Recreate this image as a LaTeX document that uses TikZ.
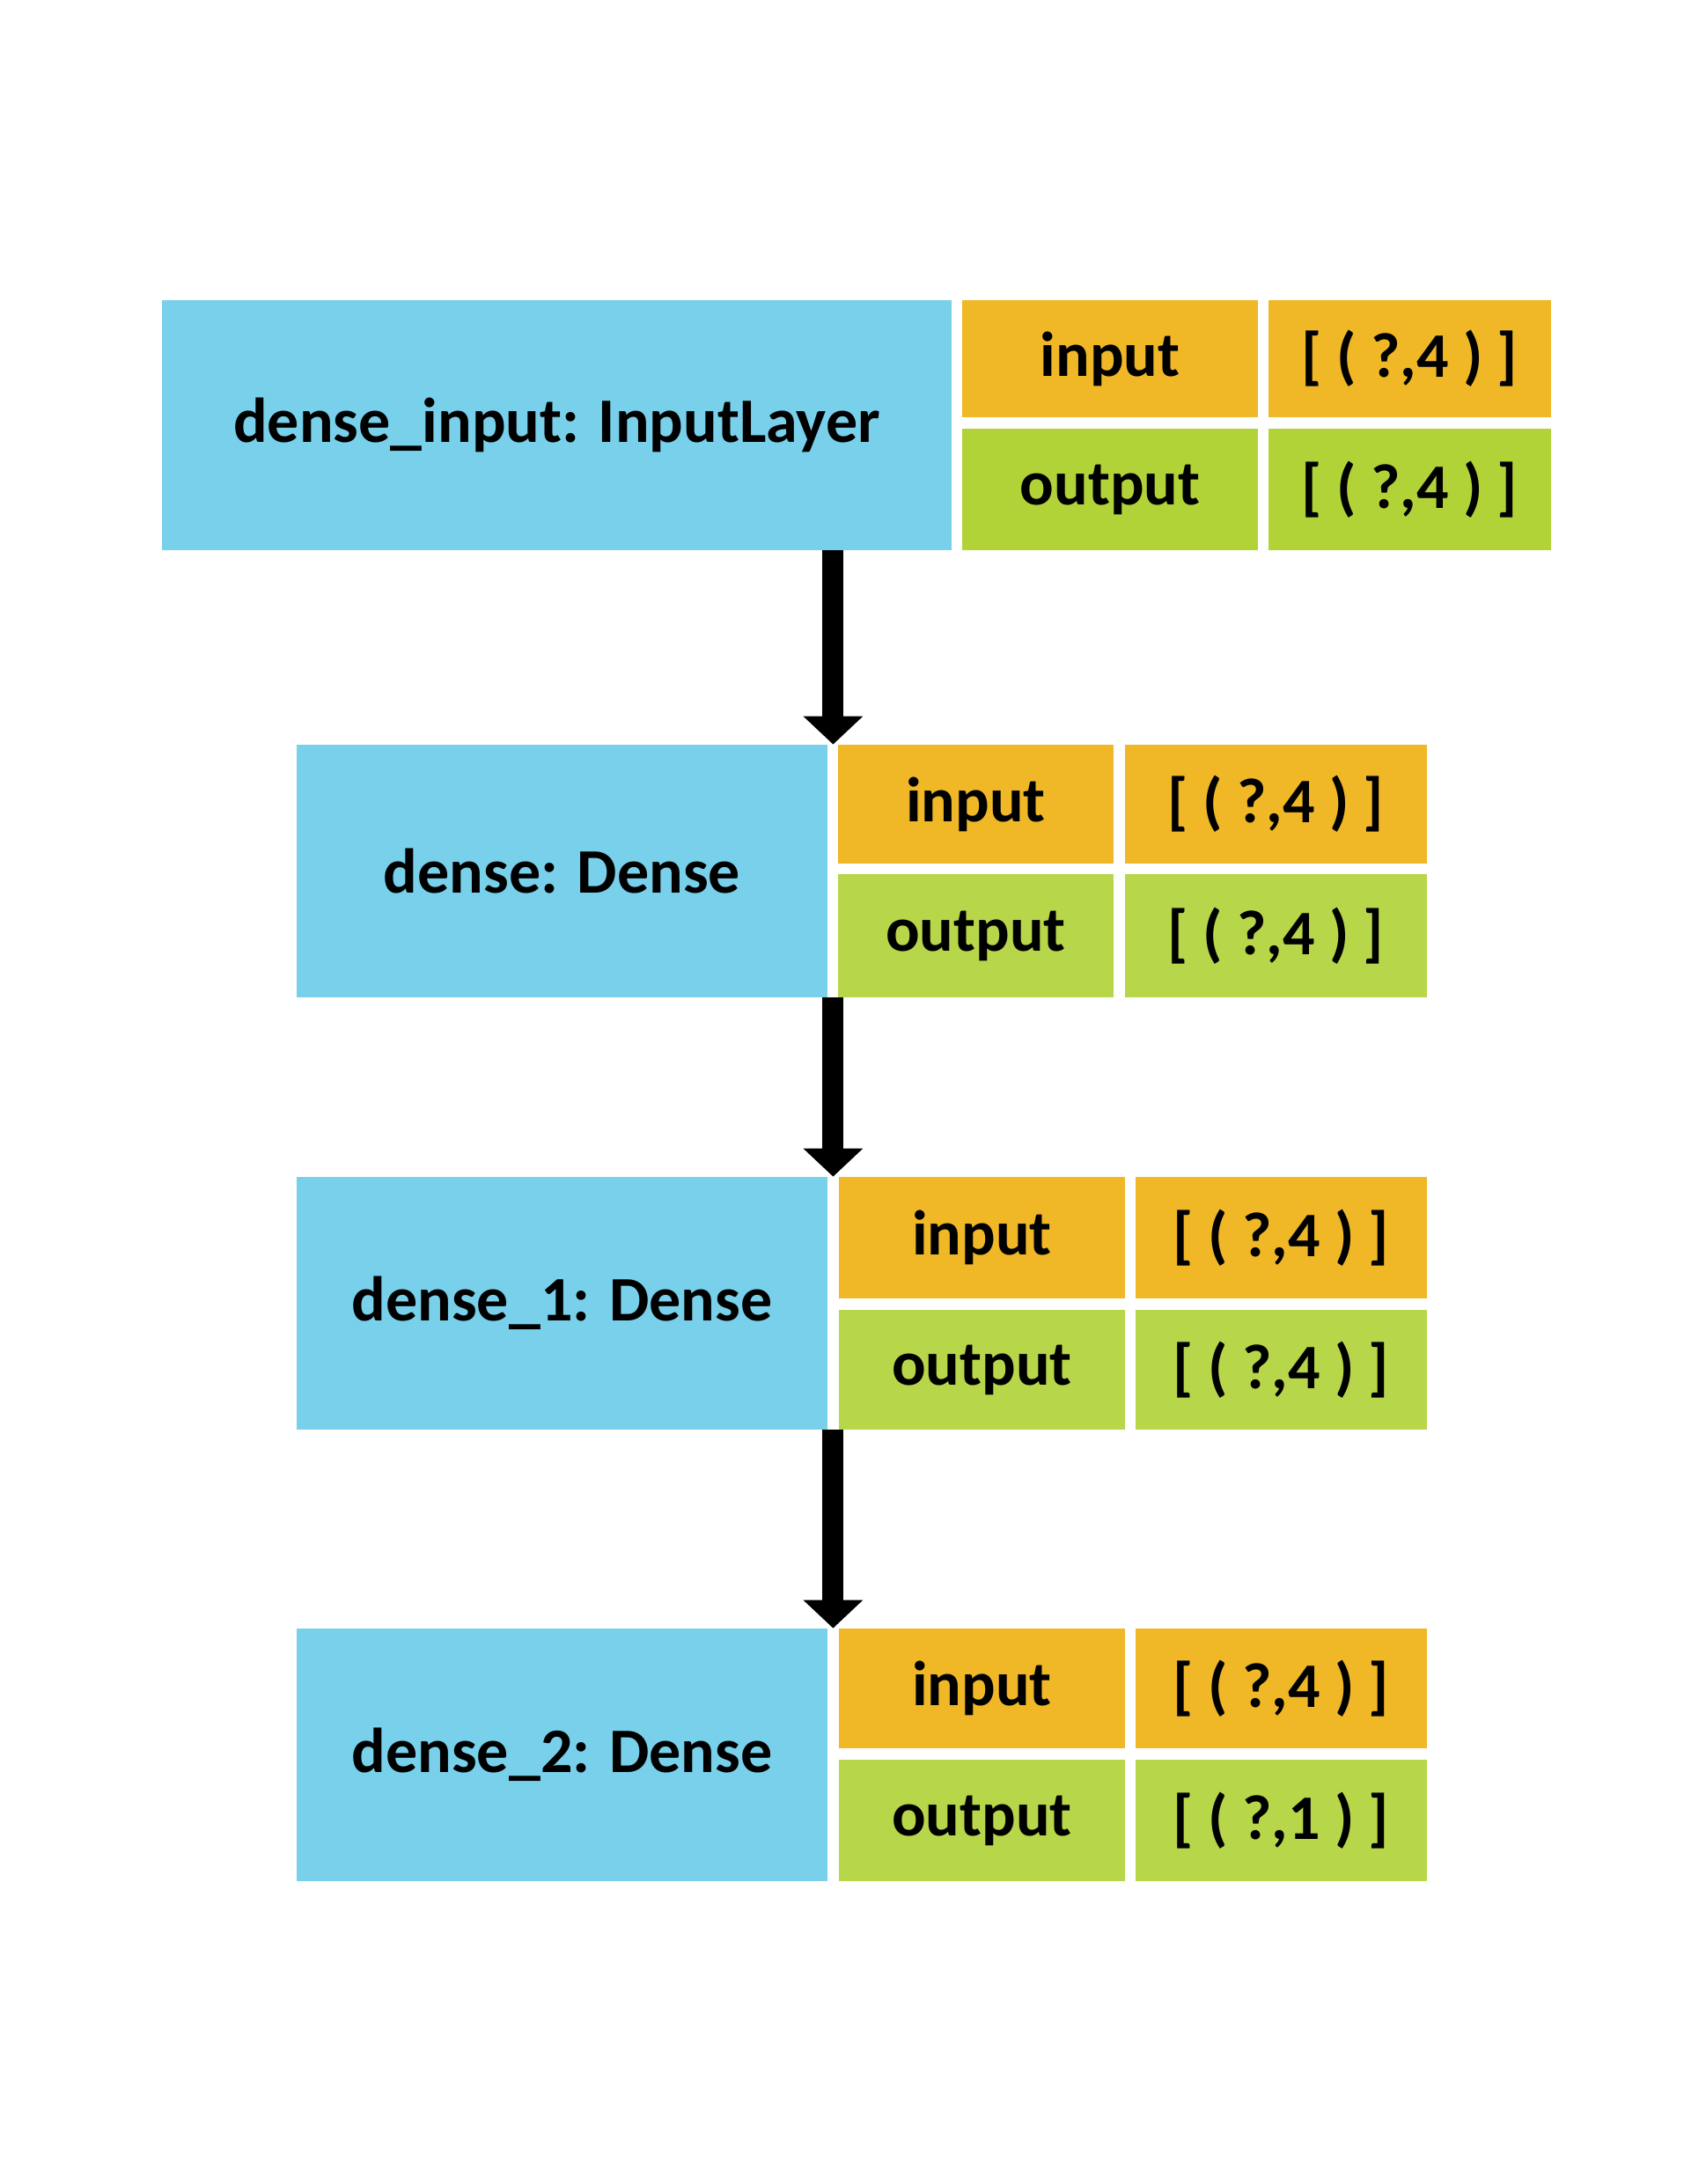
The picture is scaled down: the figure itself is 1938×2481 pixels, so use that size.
\documentclass[tikz,border=0pt]{standalone}
\usepackage{fontspec}
\setmainfont{Carlito}
\usepackage{xcolor}
\usetikzlibrary{fit}
\usetikzlibrary{positioning}
\usetikzlibrary{arrows.meta}
\definecolor{layerBlue}{RGB}{120,208,235}
\definecolor{inOrange}{RGB}{240,183,38}
\definecolor{outGreen}{RGB}{178,211,56}
\definecolor{outGreenB}{RGB}{184,214,74}

\begin{document}
\begin{tikzpicture}[x=0.5pt,y=-0.5pt,
  cell/.style={inner sep=0pt},
  every label/.style={inner sep=0pt, font=\bfseries\fontsize{36}{40}\selectfont},
  layer/.style={cell, fill=layerBlue},
  incell/.style={cell, fill=inOrange},
  outcell/.style={cell, fill=outGreenB},
  flow/.style={line width=12pt, -{Triangle[width=33pt,length=16pt]}},
]
\useasboundingbox (0,0) rectangle (1938,2481);

% dense_input
\node [layer, fit={(184,341) (1081,625)}, label=center:{dense\_input: InputLayer}] (inlayer) {};
\node [incell, fit={(1093,341) (1429,474)}, label=center:input] (inlayerIn) {};
\node [incell, fit={(1441,341) (1762,474)}, label=center:{[ ( ?,4 ) ]}] (inlayerInV) {};
\node [outcell, fill=outGreen, fit={(1093,487) (1429,625)}, label=center:output] (inlayerOut) {};
\node [outcell, fill=outGreen, fit={(1441,487) (1762,625)}, label=center:{[ ( ?,4 ) ]}] (inlayerOutV) {};

% dense
\node [layer, fit={(337,846) (940,1133)}, label=center:{dense: Dense}] (dense) {};
\node [incell, fit={(952,846) (1265,981)}, label=center:input] (denseIn) {};
\node [incell, fit={(1278,846) (1621,981)}, label=center:{[ ( ?,4 ) ]}] (denseInV) {};
\node [outcell, fit={(952,993) (1265,1133)}, label=center:output] (denseOut) {};
\node [outcell, fit={(1278,993) (1621,1133)}, label=center:{[ ( ?,4 ) ]}] (denseOutV) {};

% dense_1
\node [layer, fit={(337,1337) (940,1624)}, label=center:{dense\_1: Dense}] (denseA) {};
\node [incell, fit={(953,1337) (1278,1475)}, label=center:input] (denseAIn) {};
\node [incell, fit={(1290,1337) (1621,1475)}, label=center:{[ ( ?,4 ) ]}] (denseAInV) {};
\node [outcell, fit={(953,1488) (1278,1624)}, label=center:output] (denseAOut) {};
\node [outcell, fit={(1290,1488) (1621,1624)}, label=center:{[ ( ?,4 ) ]}] (denseAOutV) {};

% dense_2
\node [layer, fit={(337,1850) (940,2137)}, label=center:{dense\_2: Dense}] (denseB) {};
\node [incell, fit={(953,1850) (1278,1986)}, label=center:input] (denseBIn) {};
\node [incell, fit={(1290,1850) (1621,1986)}, label=center:{[ ( ?,4 ) ]}] (denseBInV) {};
\node [outcell, fit={(953,1999) (1278,2137)}, label=center:output] (denseBOut) {};
\node [outcell, fit={(1290,1999) (1621,2137)}, label=center:{[ ( ?,1 ) ]}] (denseBOutV) {};

\draw [flow] ([xshift=3pt]dense.north east |- inlayer.south) -- ([xshift=3pt]dense.north east);
\draw [flow] ([xshift=3pt]dense.south east) -- ([xshift=3pt]denseA.north east);
\draw [flow] ([xshift=3pt]denseA.south east) -- ([xshift=3pt]denseB.north east);
\end{tikzpicture}
\end{document}
